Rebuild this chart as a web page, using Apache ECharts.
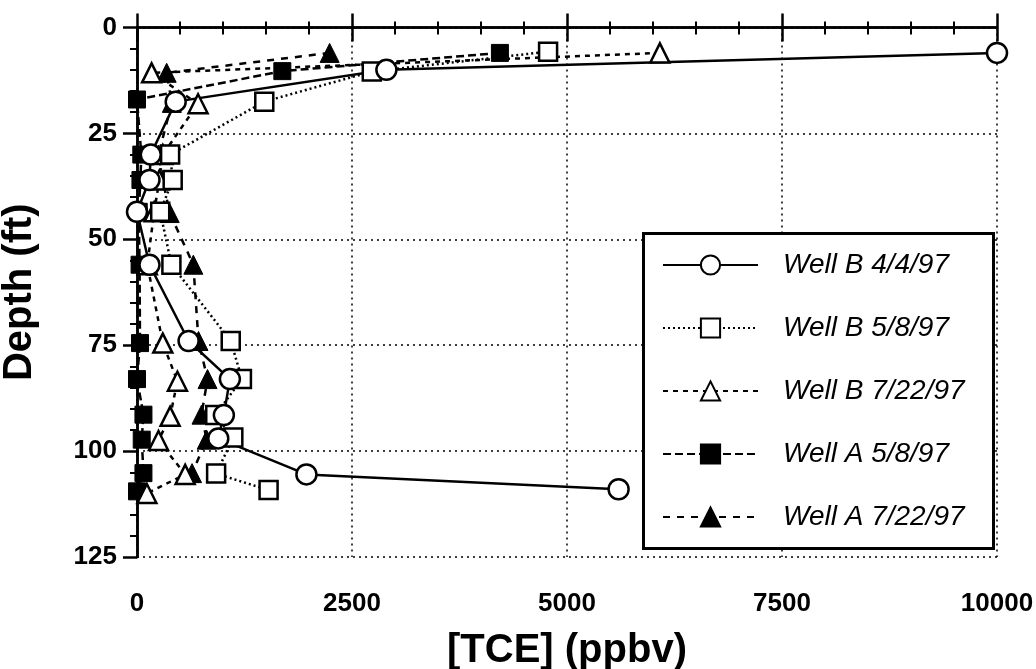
<!DOCTYPE html>
<html>
<head>
<meta charset="utf-8">
<script src="https://cdn.jsdelivr.net/npm/echarts@6/dist/echarts.min.js"></script>
<style>
  html, body { margin: 0; padding: 0; background: #fff; }
  #chart { width: 1036px; height: 669px; }
</style>
</head>
<body>
<div id="chart"></div>
<script>
// TCE soil-gas profiles: concentration (ppbv) against depth (ft)
const seriesNames = ['Well B 4/4/97', 'Well B 5/8/97', 'Well B 7/22/97', 'Well A 5/8/97', 'Well A 7/22/97'];

const wellB0404Tce   = [10000, 2900, 450, 160, 145, 0, 145, 600, 1080, 1010, 945, 1970, 5600];
const wellB0404Depth = [6, 10, 17.5, 30, 36, 43.5, 56, 74, 83, 91.5, 97, 105.5, 109];

const wellB0508Tce   = [4780, 2730, 1480, 385, 415, 270, 400, 1090, 1220, 910, 1120, 920, 1530];
const wellB0508Depth = [5.7, 10.4, 17.5, 30, 36, 43.5, 56, 74, 83, 91.5, 96.8, 105.3, 109.2];

const wellB0722Tce   = [6080, 170, 710, 300, 260, 200, 120, 300, 470, 385, 250, 560, 115];
const wellB0722Depth = [6, 10.7, 18, 30, 36, 43.5, 56, 74.5, 83.5, 91.8, 97.5, 105.5, 110];

const wellA0508Tce   = [4220, 1690, 0, 50, 40, 20, 30, 35, 0, 75, 55, 75, 0];
const wellA0508Depth = [6, 10.3, 17, 30, 36, 43.5, 56, 74.5, 83, 91.4, 97.3, 105.2, 109.5];

const wellA0722Tce   = [2240, 345, 405, 250, 300, 380, 655, 715, 820, 750, 810, 640];
const wellA0722Depth = [6, 10.7, 17.8, 30, 36, 43.8, 56, 74, 83, 91.4, 97.3, 105.2];

const xTicks = [0, 2500, 5000, 7500, 10000];
const yTicks = [0, 25, 50, 75, 100, 125];

function pairs(xs, ys) { return xs.map((v, i) => [v, ys[i]]); }

const FONT = '"Liberation Sans", Arial, sans-serif';
const openMarker = { color: '#fff', borderColor: '#000', borderWidth: 2.5 };
const solidMarker = { color: '#000', borderColor: '#000', borderWidth: 1 };

function lineSeries(name, data, symbol, size, item, lineType) {
  return {
    name, type: 'line', data, symbol, symbolSize: size,
    itemStyle: item,
    lineStyle: { color: '#000', width: 2.5, type: lineType },
    emphasis: { disabled: true },
    animation: false
  };
}

// drawn bottom-up so the Well B 4/4/97 circles sit on top
const series = [
  lineSeries(seriesNames[4], pairs(wellA0722Tce, wellA0722Depth), 'triangle', 19, solidMarker, [7, 7]),
  lineSeries(seriesNames[3], pairs(wellA0508Tce, wellA0508Depth), 'rect', 17, solidMarker, [8, 4]),
  lineSeries(seriesNames[2], pairs(wellB0722Tce, wellB0722Depth), 'triangle', 19, openMarker, [5, 5]),
  lineSeries(seriesNames[1], pairs(wellB0508Tce, wellB0508Depth), 'rect', 18, openMarker, [2, 3]),
  lineSeries(seriesNames[0], pairs(wellB0404Tce, wellB0404Depth), 'circle', 20, openMarker, 'solid')
];

const axisLine = { show: true, lineStyle: { color: '#000', width: 2.5 } };
const gridDots = { show: true, lineStyle: { color: '#000', width: 1.5, type: [2, 4] } };
const tickLabel = { color: '#000', fontSize: 26, fontWeight: 'bold', fontFamily: FONT, formatter: v => String(v) };

const chart = echarts.init(document.getElementById('chart'), null, { renderer: 'canvas' });
chart.setOption({
  backgroundColor: '#fff',
  animation: false,
  grid: { left: 137, right: 39, top: 27.5, bottom: 112, containLabel: false, outerBoundsMode: 'none' },
  xAxis: [{
    type: 'value', position: 'bottom',
    min: xTicks[0], max: xTicks[xTicks.length - 1], interval: xTicks[1] - xTicks[0],
    name: '[TCE] (ppbv)', nameLocation: 'middle', nameGap: 74,
    nameTextStyle: { color: '#000', fontSize: 40, fontWeight: 'bold', fontFamily: FONT },
    axisLine,
    axisTick: { show: true, inside: false, length: 14, lineStyle: { color: '#000', width: 2.5 } },
    minorTick: { show: true, splitNumber: 5, length: 7, lineStyle: { color: '#000', width: 2 } },
    axisLabel: Object.assign({ margin: 34 }, tickLabel),
    splitLine: gridDots
  }, {
    type: 'value', position: 'top',
    min: xTicks[0], max: xTicks[xTicks.length - 1], interval: xTicks[1] - xTicks[0],
    axisLine,
    axisTick: { show: true, inside: false, length: 14, lineStyle: { color: '#000', width: 2.5 } },
    minorTick: { show: true, splitNumber: 5, length: 6, lineStyle: { color: '#000', width: 2 } },
    axisLabel: { show: false },
    splitLine: { show: false }
  }],
  yAxis: [{
    type: 'value', position: 'left', inverse: true,
    min: yTicks[0], max: yTicks[yTicks.length - 1], interval: yTicks[1] - yTicks[0],
    name: 'Depth (ft)', nameLocation: 'middle', nameGap: 97, nameRotate: 90,
    nameTextStyle: { color: '#000', fontSize: 40, fontWeight: 'bold', fontFamily: FONT },
    axisLine,
    axisTick: { show: true, inside: false, length: 14, lineStyle: { color: '#000', width: 2.5 } },
    minorTick: { show: true, splitNumber: 5, length: 7, lineStyle: { color: '#000', width: 2 } },
    axisLabel: Object.assign({ margin: 20 }, tickLabel),
    splitLine: gridDots
  }, {
    type: 'value', position: 'right', inverse: true,
    min: yTicks[0], max: yTicks[yTicks.length - 1], interval: yTicks[1] - yTicks[0],
    axisLine,
    axisTick: { show: false },
    axisLabel: { show: false },
    splitLine: { show: false }
  }],
  legend: {
    data: seriesNames,
    orient: 'vertical',
    left: 642, top: 232, z: 5,
    padding: [19, 10, 10, 20],
    itemWidth: 95, itemHeight: 24, itemGap: 35,
    selectedMode: false,
    textStyle: { color: '#000', fontSize: 28, fontStyle: 'italic', fontFamily: FONT, padding: [0, 0, 0, 20] }
  },
  // white legend panel with a black frame, above the plot marks but below the legend entries
  graphic: [{
    type: 'rect', left: 642, top: 232, z: 4, silent: true,
    shape: { width: 350, height: 315 },
    style: { fill: '#fff', stroke: '#000', lineWidth: 3 }
  }],
  series
});
</script>
</body>
</html>
